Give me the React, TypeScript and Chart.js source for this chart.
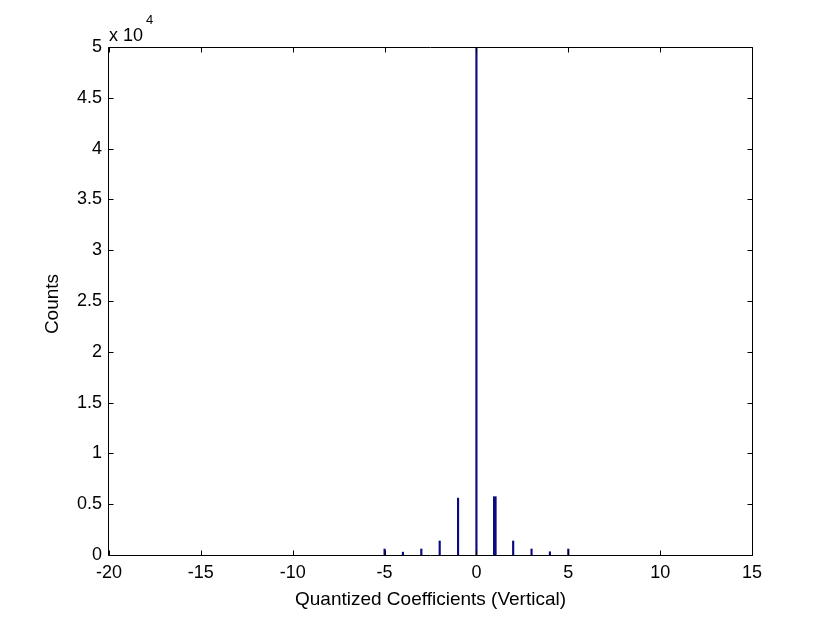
import React, { useEffect, useRef } from 'react';
import { Chart, registerables } from 'chart.js';

Chart.register(...registerables);

// Histogram bins (quantized coefficient values) and counts
const coefficients = [-5, -4, -3, -2, -1, 0, 1, 2, 3, 4, 5];
const counts = [590, 280, 590, 1380, 5600, 50000, 5740, 1380, 590, 320, 590];
// bins drawn with a heavier stem
const heavyBins = [1];

const xTickValues = [-20, -15, -10, -5, 0, 5, 10, 15];
const yTickValues = [0, 5000, 10000, 15000, 20000, 25000, 30000, 35000, 40000, 45000, 50000];

const xTitle = 'Quantized Coefficients (Vertical)';
const yTitle = 'Counts';
const expBase = 'x 10';
const expPower = '4';

const FONT = '"Liberation Sans", Arial, sans-serif';
const BAR = '#0b0b80';

const matlabAxes = {
  id: 'matlabAxes',
  afterDatasetsDraw(chart: any) {
    const { ctx, chartArea: a, scales } = chart;
    const x = scales.x;
    const y = scales.y;
    const L = a.left - 0.5;
    const R = a.right + 0.5;
    const T = a.top + 0.5;
    const B = a.bottom + 0.5;
    ctx.save();
    ctx.strokeStyle = '#000';
    ctx.lineWidth = 1;
    ctx.beginPath();
    ctx.rect(L, T, R - L, B - T);
    const tl = 5;
    xTickValues.forEach((v) => {
      const px = Math.round(x.getPixelForValue(v)) + 0.5;
      ctx.moveTo(px, B);
      ctx.lineTo(px, B - tl);
      ctx.moveTo(px, T);
      ctx.lineTo(px, T + tl);
    });
    yTickValues.forEach((v) => {
      const py = Math.round(y.getPixelForValue(v)) + 0.5;
      ctx.moveTo(L, py);
      ctx.lineTo(L + tl, py);
      ctx.moveTo(R, py);
      ctx.lineTo(R - tl, py);
    });
    ctx.stroke();

    ctx.fillStyle = '#000';
    // x axis title
    ctx.font = `19px ${FONT}`;
    ctx.textAlign = 'center';
    ctx.textBaseline = 'middle';
    ctx.fillText(xTitle, (a.left + a.right) / 2, 600);
    // y axis title
    ctx.save();
    ctx.translate(53, (a.top + a.bottom) / 2 + 3);
    ctx.rotate(-Math.PI / 2);
    ctx.fillText(yTitle, 0, 0);
    ctx.restore();
    // exponent
    ctx.textAlign = 'left';
    ctx.textBaseline = 'alphabetic';
    ctx.font = `18px ${FONT}`;
    ctx.fillText(expBase, a.left, 41);
    const w = ctx.measureText(expBase).width;
    ctx.font = `13px ${FONT}`;
    ctx.fillText(expPower, a.left + w + 3, 24);
    ctx.restore();
  },
};

export default function App() {
  const ref = useRef<HTMLCanvasElement | null>(null);

  useEffect(() => {
    if (!ref.current) return;
    const thin = coefficients
      .map((c, i) => ({ x: c, y: counts[i] }))
      .filter((p) => !heavyBins.includes(p.x));
    const heavy = coefficients
      .map((c, i) => ({ x: c, y: counts[i] }))
      .filter((p) => heavyBins.includes(p.x));

    const chart = new Chart(ref.current, {
      type: 'bar',
      data: {
        datasets: [
          { data: thin, backgroundColor: BAR, borderWidth: 0, barThickness: 1.5, grouped: false } as any,
          { data: heavy, backgroundColor: BAR, borderWidth: 0, barThickness: 3, grouped: false } as any,
        ],
      },
      plugins: [matlabAxes],
      options: {
        animation: false,
        responsive: true,
        maintainAspectRatio: false,
        events: [],
        layout: { padding: { top: 47, right: 78, left: 0, bottom: 0 } },
        plugins: { legend: { display: false }, tooltip: { enabled: false } },
        scales: {
          x: {
            type: 'linear',
            min: -20,
            max: 15,
            offset: false,
            grid: { display: false, drawTicks: false },
            border: { display: false },
            afterBuildTicks: (s: any) => {
              s.ticks = xTickValues.map((v) => ({ value: v }));
            },
            afterFit: (s: any) => {
              s.height = 68;
            },
            ticks: {
              color: '#000',
              padding: 7,
              maxRotation: 0,
              autoSkip: false,
              font: { family: FONT, size: 18 },
              callback: (v: any) => String(v),
            },
          },
          y: {
            type: 'linear',
            min: 0,
            max: 50000,
            grid: { display: false, drawTicks: false },
            border: { display: false },
            afterBuildTicks: (s: any) => {
              s.ticks = yTickValues.map((v) => ({ value: v }));
            },
            afterFit: (s: any) => {
              s.width = 109;
            },
            ticks: {
              color: '#000',
              padding: 7,
              font: { family: FONT, size: 18 },
              callback: (v: any) => String(Number(v) / 10000),
            },
          },
        },
      } as any,
    });
    return () => chart.destroy();
  }, []);

  return (
    <div style={{ position: 'fixed', left: 0, top: 0, width: 830, height: 623, background: '#fff' }}>
      <canvas ref={ref} />
    </div>
  );
}
